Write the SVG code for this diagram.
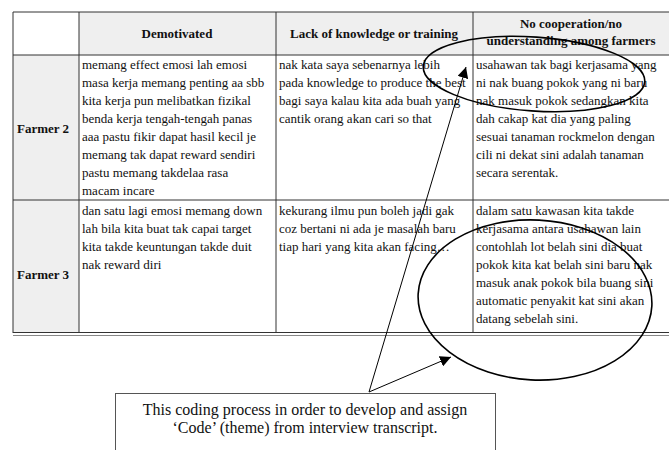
<svg xmlns="http://www.w3.org/2000/svg" width="669" height="450" viewBox="0 0 669 450">
  <style>
    .cell { font-family: "Liberation Serif", "Times New Roman", serif; font-size: 13px; fill: #111; }
    .head { font-family: "Liberation Serif", "Times New Roman", serif; font-size: 13px; font-weight: bold; fill: #111; }
    .grid { stroke: #333; stroke-width: 1; fill: none; }
    .shade { fill: #efefef; }
    .ring { fill: none; stroke: #000; stroke-width: 1.6; }
    .link { stroke: #000; stroke-width: 1; fill: none; }
    .note { font-family: "Liberation Serif", "Times New Roman", serif; font-size: 16px; fill: #111; }
  </style>
  <defs>
    <marker id="tip" viewBox="0 0 10 10" refX="10" refY="5" markerWidth="11" markerHeight="11" markerUnits="userSpaceOnUse" orient="auto">
      <path d="M0,0 L10,5 L0,10 z" fill="#000"/>
    </marker>
  </defs>

  <rect width="669" height="450" fill="#fff"/>

  <!-- table -->
  <g id="table">
    <rect class="shade" x="79" y="12" width="590" height="43"/>
    <rect class="shade" x="13" y="55" width="66" height="278"/>
    <line class="grid" x1="13" y1="12" x2="669" y2="12" stroke-width="2"/>
    <line class="grid" x1="13" y1="55" x2="669" y2="55"/>
    <line class="grid" x1="13" y1="200" x2="669" y2="200" stroke-width="1.3"/>
    <line class="grid" x1="13" y1="332.5" x2="669" y2="332.5" stroke-width="1.6"/>
    <line x1="13" y1="335.5" x2="669" y2="335.5" stroke="#888" stroke-width="1"/>
    <line class="grid" x1="13" y1="12" x2="13" y2="333"/>
    <line class="grid" x1="79" y1="12" x2="79" y2="333"/>
    <line class="grid" x1="276" y1="12" x2="276" y2="333"/>
    <line class="grid" x1="473" y1="12" x2="473" y2="333"/>

    <text class="head" x="177" y="38" text-anchor="middle">Demotivated</text>
    <text class="head" x="374" y="38" text-anchor="middle">Lack of knowledge or training</text>
    <text class="head" x="571" y="28" text-anchor="middle">No cooperation/no</text>
    <text class="head" x="571" y="45" text-anchor="middle">understanding among farmers</text>

    <text class="head" x="17" y="133">Farmer 2</text>
    <text class="head" x="17" y="279">Farmer 3</text>

    <text class="cell" x="82" y="69">
      <tspan x="82" dy="0">memang effect emosi lah emosi</tspan>
      <tspan x="82" dy="18">masa kerja memang penting aa sbb</tspan>
      <tspan x="82" dy="18">kita kerja pun melibatkan fizikal</tspan>
      <tspan x="82" dy="18">benda kerja tengah-tengah panas</tspan>
      <tspan x="82" dy="18">aaa pastu fikir dapat hasil kecil je</tspan>
      <tspan x="82" dy="18">memang tak dapat reward sendiri</tspan>
      <tspan x="82" dy="18">pastu memang takdelaa rasa</tspan>
      <tspan x="82" dy="18">macam incare</tspan>
    </text>
    <text class="cell" x="279" y="69">
      <tspan x="279" dy="0">nak kata saya sebenarnya lebih</tspan>
      <tspan x="279" dy="18">pada knowledge to produce the best</tspan>
      <tspan x="279" dy="18">bagi saya kalau kita ada buah yang</tspan>
      <tspan x="279" dy="18">cantik orang akan cari so that</tspan>
    </text>
    <text class="cell" x="476" y="69">
      <tspan x="476" dy="0">usahawan tak bagi kerjasama yang</tspan>
      <tspan x="476" dy="18">ni nak buang pokok yang ni baru</tspan>
      <tspan x="476" dy="18">nak masuk pokok sedangkan kita</tspan>
      <tspan x="476" dy="18">dah cakap kat dia yang paling</tspan>
      <tspan x="476" dy="18">sesuai tanaman rockmelon dengan</tspan>
      <tspan x="476" dy="18">cili ni dekat sini adalah tanaman</tspan>
      <tspan x="476" dy="18">secara serentak.</tspan>
    </text>

    <text class="cell" x="82" y="215">
      <tspan x="82" dy="0">dan satu lagi emosi memang down</tspan>
      <tspan x="82" dy="18">lah bila kita buat tak capai target</tspan>
      <tspan x="82" dy="18">kita takde keuntungan takde duit</tspan>
      <tspan x="82" dy="18">nak reward diri</tspan>
    </text>
    <text class="cell" x="279" y="215">
      <tspan x="279" dy="0">kekurang ilmu pun boleh jadi gak</tspan>
      <tspan x="279" dy="18">coz bertani ni ada je masalah baru</tspan>
      <tspan x="279" dy="18">tiap hari yang kita akan facing…</tspan>
    </text>
    <text class="cell" x="476" y="215">
      <tspan x="476" dy="0">dalam satu kawasan kita takde</tspan>
      <tspan x="476" dy="18">kerjasama antara usahawan lain</tspan>
      <tspan x="476" dy="18">contohlah lot belah sini dia buat</tspan>
      <tspan x="476" dy="18">pokok kita kat belah sini baru nak</tspan>
      <tspan x="476" dy="18">masuk anak pokok bila buang sini</tspan>
      <tspan x="476" dy="18">automatic penyakit kat sini akan</tspan>
      <tspan x="476" dy="18">datang sebelah sini.</tspan>
    </text>
  </g>

  <!-- highlighted passages -->
  <g id="ring-header">
    <ellipse class="ring" cx="534" cy="74" rx="111" ry="37" transform="rotate(4 534 74)"/>
  </g>
  <g id="ring-farmer3">
    <ellipse class="ring" cx="535" cy="300" rx="117" ry="80" transform="rotate(3 535 300)"/>
  </g>

  <!-- callout note -->
  <g id="note">
    <rect x="115.5" y="393.5" width="380" height="70" fill="#fff" stroke="#555" stroke-width="1"/>
    <text class="note" x="305" y="415" text-anchor="middle">This coding process in order to develop and assign</text>
    <text class="note" x="305" y="433" text-anchor="middle">‘Code’ (theme) from interview transcript.</text>
  </g>

  <!-- connectors -->
  <g id="connectors">
    <line class="link" x1="369" y1="392" x2="466" y2="67" marker-end="url(#tip)"/>
    <line class="link" x1="369" y1="392" x2="451" y2="357" marker-end="url(#tip)"/>
  </g>
</svg>
